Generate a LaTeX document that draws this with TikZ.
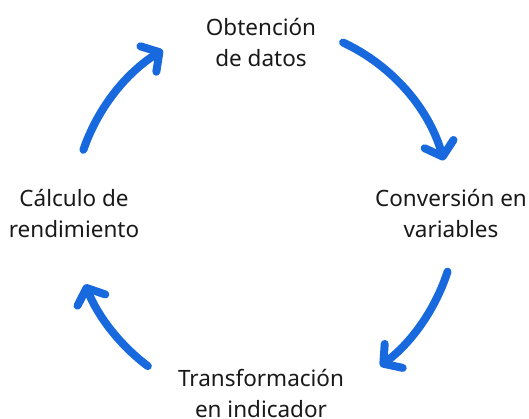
\documentclass[tikz,border=0pt]{standalone}
\usepackage{fontspec}
\setmainfont{Noto Sans}
\usetikzlibrary{arrows.meta,calc}
\definecolor{cycleblue}{HTML}{1769DD}
\begin{document}
\begin{tikzpicture}[x=1pt,y=-1pt,
    stage/.style={align=center, font=\fontsize{22.5}{31}\selectfont, text=black!90},
    flow/.style={cycleblue, line width=8pt, line cap=round,
        -{Straight Barb[length=13pt, width=30pt, round]}}]
        % Fix the canvas
        \useasboundingbox (0,0) rectangle (529,419);

        % Draw stage labels
        \node[stage] (obtencion) at (261,42) {Obtención\\de datos};
        \node[stage] (conversion) at (451,213) {Conversión en\\variables};
        \node[stage] (transformacion) at (261,393) {Transformación\\en indicador};
        \node[stage] (calculo) at (74,213) {Cálculo de\\rendimiento};

        % Draw cycle arrows
        \coordinate (c) at (264,212);
        \foreach \a/\b/\r in {-65/-16/187, 18/53/193, 127/158/193, 199/238/191} {
            \draw[flow] ($(c)+(\a:\r)$) arc[start angle=\a, end angle=\b, radius=\r];
        }
    \end{tikzpicture}
\end{document}
